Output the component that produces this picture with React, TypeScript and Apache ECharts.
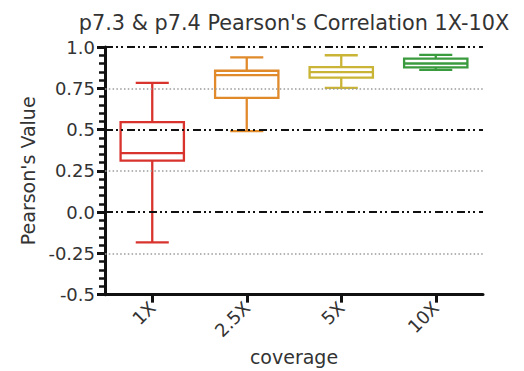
import React, { useEffect, useRef } from "react";
import * as echarts from "echarts";

const titleText = "p7.3 & p7.4 Pearson's Correlation 1X-10X";
const categories = ["1X", "2.5X", "5X", "10X"];
const mins = [-0.183, 0.49, 0.752, 0.862];
const q1s = [0.312, 0.692, 0.815, 0.876];
const medians = [0.357, 0.83, 0.848, 0.9];
const q3s = [0.545, 0.856, 0.878, 0.93];
const maxs = [0.783, 0.937, 0.95, 0.952];
const boxColors = ["#d8332d", "#e08a2c", "#c9b435", "#3a9a3e"];
const yTickValues = [-0.5, -0.25, 0, 0.25, 0.5, 0.75, 1.0];
const yTickLabels = ["-0.5", "-0.25", "0.0", "0.25", "0.5", "0.75", "1.0"];
const dashDotLines = [1.0, 0.5, 0.0];
const dottedLines = [0.75, 0.25, -0.25];

const FONT = "DejaVu Sans";

export default function App() {
  const ref = useRef<HTMLDivElement>(null);
  useEffect(() => {
    if (!ref.current) return;
    const chart = echarts.init(ref.current, undefined, { renderer: "svg" });
    const data = categories.map((c, i) => [i, mins[i], q1s[i], medians[i], q3s[i], maxs[i]]);
    const markData: any[] = [
      ...dashDotLines.map((v) => ({
        yAxis: v,
        lineStyle: { color: "#111", width: 2, type: [8, 3, 2, 3, 2, 4] },
      })),
      ...dottedLines.map((v) => ({
        yAxis: v,
        lineStyle: { color: "#9a9a9a", width: 1.5, type: [1.5, 2.3] },
      })),
    ];
    const option: any = {
      animation: false,
      backgroundColor: "#fff",
      grid: { left: 105, top: 47, width: 378, height: 249 },
      graphic: [
        {
          type: "text",
          x: 294,
          y: 23,
          style: {
            text: titleText,
            align: "center",
            verticalAlign: "middle",
            textAlign: "center",
            textVerticalAlign: "middle",
            fontSize: 20.8,
            fontFamily: FONT,
            fill: "#333",
          },
        },
      ],
      xAxis: {
        type: "category",
        data: categories,
        boundaryGap: true,
        name: "coverage",
        nameLocation: "middle",
        nameGap: 52,
        nameTextStyle: { fontSize: 19, fontFamily: FONT, color: "#333" },
        axisLine: { show: true, onZero: false, lineStyle: { color: "#111", width: 3 } },
        axisTick: { show: true, alignWithLabel: true, length: 8, lineStyle: { color: "#111", width: 3 } },
        axisLabel: { rotate: 45, margin: 10, fontSize: 18, fontFamily: FONT, color: "#333" },
        splitLine: { show: false },
      },
      yAxis: {
        type: "value",
        min: -0.5,
        max: 1.0,
        interval: 0.25,
        name: "Pearson's Value",
        nameLocation: "middle",
        nameGap: 68,
        nameTextStyle: { fontSize: 19, fontFamily: FONT, color: "#333" },
        axisLine: { show: true, lineStyle: { color: "#111", width: 3 } },
        axisTick: { show: true, length: 8, lineStyle: { color: "#111", width: 3 } },
        minorTick: { show: true, splitNumber: 5, length: 6, lineStyle: { color: "#111", width: 2.5 } },
        axisLabel: {
          margin: 10,
          fontSize: 18,
          fontFamily: FONT,
          color: "#333",
          formatter: (v: number) => {
            const idx = yTickValues.findIndex((t) => Math.abs(t - v) < 1e-6);
            return idx >= 0 ? yTickLabels[idx] : "";
          },
        },
        splitLine: { show: false },
      },
      series: [
        {
          type: "custom",
          data,
          encode: { x: 0, y: [1, 2, 3, 4, 5] },
          renderItem: (params: any, api: any) => {
            const i = api.value(0);
            const pMin = api.coord([i, api.value(1)]);
            const pQ1 = api.coord([i, api.value(2)]);
            const pMed = api.coord([i, api.value(3)]);
            const pQ3 = api.coord([i, api.value(4)]);
            const pMax = api.coord([i, api.value(5)]);
            const band = api.size([1, 0])[0];
            const cx = pMed[0];
            const bw = (band * 0.67) / 2;
            const cw = (band * 0.35) / 2;
            const color = boxColors[params.dataIndex];
            const st = { stroke: color, lineWidth: 2.3, fill: "none" };
            return {
              type: "group",
              children: [
                { type: "line", shape: { x1: cx, y1: pQ3[1], x2: cx, y2: pMax[1] }, style: st },
                { type: "line", shape: { x1: cx, y1: pQ1[1], x2: cx, y2: pMin[1] }, style: st },
                { type: "line", shape: { x1: cx - cw, y1: pMax[1], x2: cx + cw, y2: pMax[1] }, style: st },
                { type: "line", shape: { x1: cx - cw, y1: pMin[1], x2: cx + cw, y2: pMin[1] }, style: st },
                {
                  type: "rect",
                  shape: { x: cx - bw, y: pQ3[1], width: bw * 2, height: pQ1[1] - pQ3[1] },
                  style: st,
                },
                { type: "line", shape: { x1: cx - bw, y1: pMed[1], x2: cx + bw, y2: pMed[1] }, style: st },
              ],
            };
          },
          markLine: {
            silent: true,
            symbol: "none",
            label: { show: false },
            data: markData,
          },
          z: 3,
        },
      ],
    };
    chart.setOption(option);
    return () => chart.dispose();
  }, []);
  return (
    <div
      ref={ref}
      style={{ position: "absolute", left: 0, top: 0, width: 524, height: 371 }}
    />
  );
}
